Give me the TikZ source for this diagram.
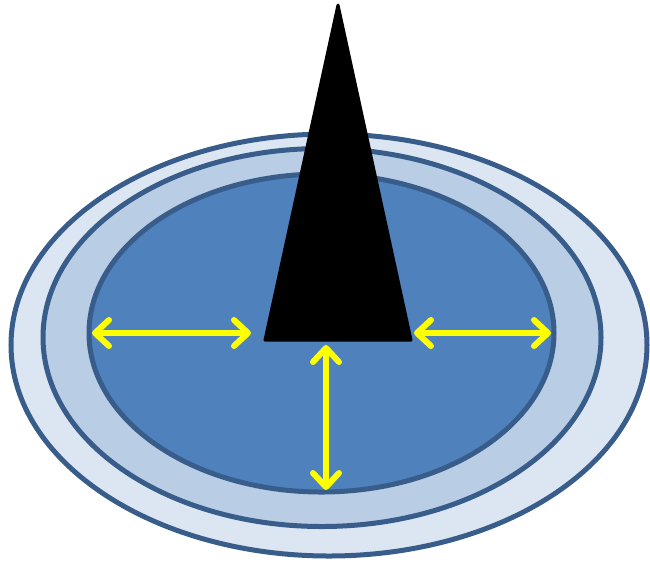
\documentclass[tikz,border=0pt]{standalone}
\usetikzlibrary{arrows.meta}
\definecolor{rim}{HTML}{385D8A}
\definecolor{outerfill}{HTML}{DCE6F2}
\definecolor{midfill}{HTML}{B9CDE5}
\definecolor{innerfill}{HTML}{4F81BD}
\definecolor{arrowyellow}{HTML}{FFFF00}
\tikzset{
  ring/.style={draw=rim, line width=5pt},
  yarrow/.style={draw=arrowyellow, line width=6pt, line cap=round,
    {Straight Barb[length=14pt,width=26pt,round]}-{Straight Barb[length=14pt,width=26pt,round]}},
}
\begin{document}
\begin{tikzpicture}[x=1pt,y=-1pt]
\useasboundingbox (0,0) rectangle (650,566);
\fill[outerfill, ring] (329,345) ellipse [x radius=318, y radius=211];
\fill[midfill, ring] (322,337.5) ellipse [x radius=279, y radius=189];
\fill[innerfill, ring] (321.5,333) ellipse [x radius=232.5, y radius=159];
\fill[black, draw=black, line width=3pt, line join=round] (338,5) -- (411,340) -- (265,340) -- cycle;
\coordinate (l1) at (92,333);
\coordinate (l2) at (251,333);
\coordinate (r1) at (414,333);
\coordinate (r2) at (551,333);
\coordinate (v1) at (326,345);
\coordinate (v2) at (326,490);
\draw[yarrow] (l1) -- (l2);
\draw[yarrow] (r1) -- (r2);
\draw[yarrow] (v1) -- (v2);
\end{tikzpicture}
\end{document}
